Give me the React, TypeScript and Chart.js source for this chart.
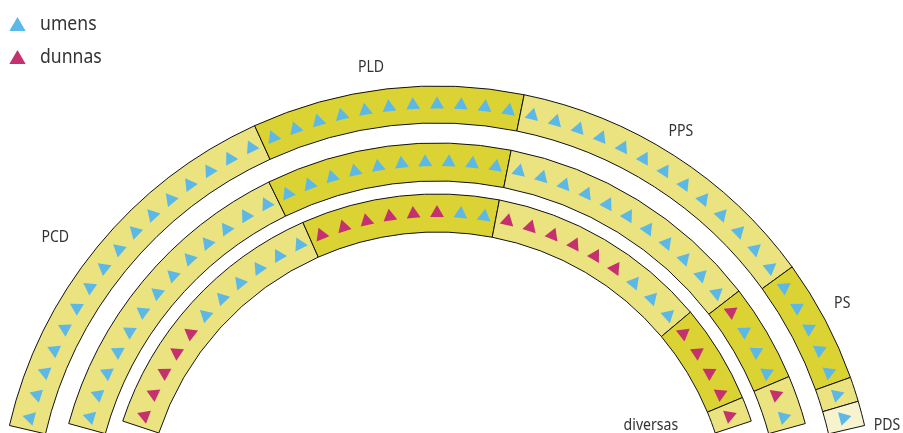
import React, { useEffect, useRef } from 'react';
import { Chart, registerables } from 'chart.js';

Chart.register(...registerables);

// ---------- data ----------
const parties = ['PCD', 'PLD', 'PPS', 'PS', 'diversas', 'PDS'];
const legendLabels = ['umens', 'dunnas'];
const ringNames = ['outer', 'middle', 'inner'];
// seats per party in each ring (men / women)
const outerMen = [16, 11, 13, 5, 1, 1];
const outerWomen = [0, 0, 0, 0, 0, 0];
const middleMen = [13, 10, 11, 3, 1, 0];
const middleWomen = [0, 0, 0, 1, 1, 0];
const innerMen = [6, 2, 3, 0, 0, 0];
const innerWomen = [5, 6, 6, 4, 1, 0];

// ---------- styles / layout ----------
const partyColors = ['#EAE380', '#DBD234', '#EAE380', '#DBD234', '#EAE380', '#F6F3CE'];
const MEN_COLOR = '#5CB8E6';
const WOMEN_COLOR = '#C5316E';
const TEXT_COLOR = '#333333';
const FONT = '"Noto Sans", sans-serif';
const W = 903;
const H = 1050;
const CX = 437;
const CY = 525;
const RINGS = [
  { outer: 439, inner: 402, endDeg: 13.1 },
  { outer: 382, inner: 344, endDeg: 15.4 },
  { outer: 331, inner: 293, endDeg: 18.3 },
];
const LABEL_POS = [
  { a: 143, r: 478 },
  { a: 98.2, r: 462.7 },
  { a: 58.2, r: 462.6 },
  { a: 28.7, r: 462 },
  { a: 25, r: 236 },
  { a: 12.5, r: 461 },
];

const ringMen = [outerMen, middleMen, innerMen];
const ringWomen = [outerWomen, middleWomen, innerWomen];

function buildSeats() {
  const men: { x: number; y: number }[] = [];
  const women: { x: number; y: number }[] = [];
  const menRot: number[] = [];
  const womenRot: number[] = [];
  RINGS.forEach((g, i) => {
    const totals = parties.map((_, p) => ringMen[i][p] + ringWomen[i][p]);
    const n = totals.reduce((a, b) => a + b, 0);
    const span = 180 - 2 * g.endDeg;
    const step = span / n;
    const r = (g.outer + g.inner) / 2;
    let k = 0;
    parties.forEach((_, p) => {
      const seq: number[] = [];
      for (let j = 0; j < ringWomen[i][p]; j++) seq.push(1);
      for (let j = 0; j < ringMen[i][p]; j++) seq.push(0);
      seq.forEach((isW) => {
        const a = 180 - g.endDeg - (k + 0.5) * step;
        const rad = (a * Math.PI) / 180;
        const pt = { x: r * Math.cos(rad), y: r * Math.sin(rad) };
        if (isW) {
          women.push(pt);
          womenRot.push(90 - a);
        } else {
          men.push(pt);
          menRot.push(90 - a);
        }
        k++;
      });
    });
  });
  return { men, women, menRot, womenRot };
}

function drawTri(ctx: CanvasRenderingContext2D, x: number, y: number, r: number, color: string) {
  ctx.beginPath();
  for (let i = 0; i < 3; i++) {
    const a = (i * 2 * Math.PI) / 3;
    const px = x + Math.sin(a) * r;
    const py = y - Math.cos(a) * r;
    if (i === 0) ctx.moveTo(px, py);
    else ctx.lineTo(px, py);
  }
  ctx.closePath();
  ctx.fillStyle = color;
  ctx.fill();
}

function drawCondensedText(
  ctx: CanvasRenderingContext2D,
  text: string,
  x: number,
  y: number,
  size: number,
  align: CanvasTextAlign,
  baseline: CanvasTextBaseline
) {
  const sx = 0.88;
  ctx.save();
  ctx.translate(x, y);
  ctx.scale(sx, 1);
  ctx.font = `${size}px ${FONT}`;
  ctx.fillStyle = TEXT_COLOR;
  ctx.textAlign = align;
  ctx.textBaseline = baseline;
  ctx.fillText(text, 0, 0);
  ctx.restore();
}

const textPlugin = {
  id: 'parlTexts',
  afterDraw(chart: any) {
    const ctx = chart.ctx as CanvasRenderingContext2D;
    const xs = chart.scales.x;
    const ys = chart.scales.y;
    parties.forEach((name, i) => {
      const pos = LABEL_POS[i];
      const rad = (pos.a * Math.PI) / 180;
      const px = xs.getPixelForValue(pos.r * Math.cos(rad));
      const py = ys.getPixelForValue(pos.r * Math.sin(rad));
      drawCondensedText(ctx, name, px, py, 16, 'center', 'middle');
    });
    // legend
    const colors = [MEN_COLOR, WOMEN_COLOR];
    const rows = [30, 63];
    legendLabels.forEach((lab, i) => {
      drawTri(ctx, 17.5, rows[i] - 3.7, 9.4, colors[i]);
      drawCondensedText(ctx, lab, 40, rows[i], 20, 'left', 'alphabetic');
    });
  },
};

export default function App() {
  const arcRef = useRef<HTMLCanvasElement>(null);
  const seatRef = useRef<HTMLCanvasElement>(null);

  useEffect(() => {
    const datasets: any[] = [];
    RINGS.forEach((g, i) => {
      if (i > 0) {
        datasets.push({
          label: 'gap',
          data: [1],
          backgroundColor: 'rgba(0,0,0,0)',
          borderWidth: 0,
          weight: RINGS[i - 1].inner - g.outer,
          rotation: 0,
          circumference: 360,
        });
      }
      datasets.push({
        label: ringNames[i],
        data: parties.map((_, p) => ringMen[i][p] + ringWomen[i][p]),
        backgroundColor: partyColors,
        borderColor: '#111111',
        borderWidth: 1,
        weight: g.outer - g.inner,
        rotation: g.endDeg - 90 - 90 + 90,
        circumference: 180 - 2 * g.endDeg,
      });
    });
    // rotation in Chart.js: 0 = top; start at left end (angle 180-endDeg measured CCW from +x)
    datasets.forEach((d) => {
      if (d.label !== 'gap') {
        const g = RINGS[ringNames.indexOf(d.label)];
        d.rotation = -(90 - g.endDeg);
      }
    });

    const arcChart = new Chart(arcRef.current as HTMLCanvasElement, {
      type: 'doughnut',
      data: { labels: parties, datasets },
      options: {
        responsive: false,
        animation: false,
        devicePixelRatio: 1,
        events: [],
        radius: RINGS[0].outer,
        cutout: `${(RINGS[2].inner / RINGS[0].outer) * 100}%`,
        layout: { padding: { left: 0, top: 0, bottom: 0, right: W - 2 * CX }, autoPadding: false },
        plugins: { legend: { display: false }, tooltip: { enabled: false } },
      } as any,
    });

    const seats = buildSeats();
    const seatChart = new Chart(seatRef.current as HTMLCanvasElement, {
      type: 'scatter',
      data: {
        datasets: [
          {
            label: legendLabels[0],
            data: seats.men,
            pointStyle: 'triangle',
            pointRadius: 8,
            pointBorderWidth: 0,
            pointBackgroundColor: MEN_COLOR,
            pointRotation: seats.menRot,
            showLine: false,
          },
          {
            label: legendLabels[1],
            data: seats.women,
            pointStyle: 'triangle',
            pointRadius: 8,
            pointBorderWidth: 0,
            pointBackgroundColor: WOMEN_COLOR,
            pointRotation: seats.womenRot,
            showLine: false,
          },
        ],
      },
      options: {
        responsive: false,
        animation: false,
        devicePixelRatio: 1,
        events: [],
        layout: { padding: 0, autoPadding: false },
        scales: {
          x: { type: 'linear', min: -CX, max: W - CX, bounds: 'data', display: false },
          y: { type: 'linear', min: CY - H, max: CY, bounds: 'data', display: false },
        },
        plugins: { legend: { display: false }, tooltip: { enabled: false } },
      } as any,
      plugins: [textPlugin],
    });

    return () => {
      arcChart.destroy();
      seatChart.destroy();
    };
  }, []);

  return (
    <div
      style={{
        position: 'fixed',
        left: 0,
        top: 0,
        width: W,
        height: 433,
        overflow: 'hidden',
        background: '#ffffff',
      }}
    >
      <canvas ref={arcRef} width={W} height={H} style={{ position: 'absolute', left: 0, top: 0 }} />
      <canvas ref={seatRef} width={W} height={H} style={{ position: 'absolute', left: 0, top: 0 }} />
    </div>
  );
}
